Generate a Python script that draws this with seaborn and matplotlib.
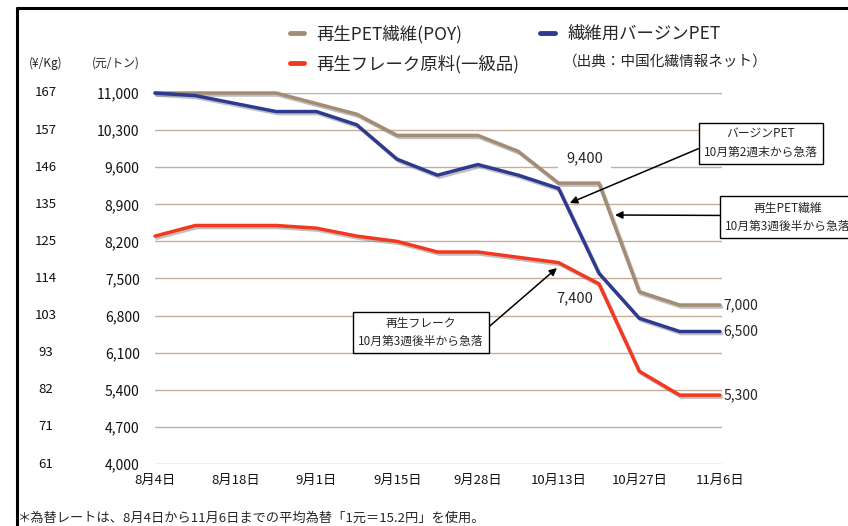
import numpy as np
import pandas as pd
import seaborn as sns
import matplotlib
matplotlib.use("Agg")
import matplotlib.pyplot as plt
import matplotlib.patheffects as pe
import matplotlib.transforms as mtransforms
from matplotlib.lines import Line2D

# weekly observations, 8/4 .. 11/6 (元/トン)
weeks = list(range(15))
poy = [11000, 11000, 11000, 11000, 10800, 10600, 10200, 10200, 10200, 9900,
       9300, 9300, 7250, 7000, 7000]
virgin = [11000, 10950, 10800, 10650, 10650, 10400, 9750, 9450, 9650, 9450,
          9200, 7600, 6750, 6500, 6500]
flake = [8300, 8500, 8500, 8500, 8450, 8300, 8200, 8000, 8000, 7900,
         7800, 7400, 5750, 5300, 5300]

series_names = ["再生PET繊維(POY)", "再生フレーク原料(一級品)", "繊維用バージンPET"]
colors = ["#a38c74", "#f2381f", "#2d3a8f"]

tick_pos = [0, 2, 4, 6, 8, 10, 12, 14]
tick_labels = ["8月4日", "8月18日", "9月1日", "9月15日", "9月28日",
               "10月13日", "10月27日", "11月6日"]
yuan_ticks = [4000, 4700, 5400, 6100, 6800, 7500, 8200, 8900, 9600, 10300, 11000]
yen_ticks = [61, 71, 82, 93, 103, 114, 125, 135, 146, 157, 167]

df = pd.concat([
    pd.DataFrame({"week": weeks, "price": poy, "series": series_names[0]}),
    pd.DataFrame({"week": weeks, "price": flake, "series": series_names[1]}),
    pd.DataFrame({"week": weeks, "price": virgin, "series": series_names[2]}),
])

sns.set_theme(style="white")
plt.rcParams["font.family"] = ["Noto Sans CJK JP", "DejaVu Sans"]

W, H = 848, 526
fig = plt.figure(figsize=(W / 100, H / 100), dpi=100)
ax = fig.add_axes([155 / W, 1 - 464 / H, 567 / W, 371 / H])

sns.lineplot(data=df, x="week", y="price", hue="series", hue_order=series_names,
             palette=dict(zip(series_names, colors)), linewidth=2.5,
             legend=False, ax=ax, zorder=3)
for ln in ax.lines:
    ln.set_clip_on(False)
    ln.set_solid_joinstyle("miter")
    ln.set_path_effects([pe.SimpleLineShadow(offset=(1.2, -1.5), shadow_color="#777777", alpha=0.45),
                         pe.Normal()])

ax.set_xlim(0, 14.05)
ax.set_ylim(4000, 11000)
ax.set_yticks(yuan_ticks)
ax.set_yticklabels([f"{v:,}" for v in yuan_ticks], fontsize=10)
ax.set_xticks(tick_pos)
ax.set_xticklabels(tick_labels, fontsize=9.5)
ax.tick_params(axis="y", length=0, pad=11, colors="#111111")
ax.tick_params(axis="x", length=0, pad=7, colors="#111111")
ax.set_xlabel("")
ax.set_ylabel("")
ax.yaxis.grid(True, color="#c8ad98", linewidth=1.0)
ax.xaxis.grid(False)
ax.set_axisbelow(True)
sns.despine(ax=ax, left=True, bottom=True)

# yen per kg column
tr = mtransforms.blended_transform_factory(fig.transFigure, ax.transData)
for yv, lab in zip(yuan_ticks, yen_ticks):
    ax.text(46 / W, yv, str(lab), transform=tr, ha="center", va="center",
            fontsize=9.5, color="#111111")
fig.text(46 / W, 1 - 63 / H, "(¥/Kg)", ha="center", va="center", fontsize=8.5)
fig.text(116 / W, 1 - 63 / H, "(元/トン)", ha="center", va="center", fontsize=8.5)

# end labels
for vals in (poy, virgin, flake):
    ax.text(14.08, vals[-1], f"{vals[-1]:,}", ha="left", va="center", fontsize=10)
ax.text(10.65, 9770, "9,400", ha="center", va="center", fontsize=10.5,
        bbox=dict(boxstyle="square,pad=0.55", fc="white", ec="none"), zorder=2)
ax.text(10.4, 7400 - 150, "7,400", ha="center", va="top", fontsize=10.5)

# callouts
box = dict(boxstyle="square,pad=0.45", fc="white", ec="black", lw=1.0)
ax.annotate("バージンPET\n10月第2週末から急落", xy=(10.28, 8925),
            xytext=(761, H - 143.5), textcoords="figure pixels",
            ha="center", va="center", fontsize=8.5, linespacing=1.5, bbox=box,
            arrowprops=dict(arrowstyle="-|>", color="black", lw=1.1,
                            relpos=(0, 0.41), shrinkA=0, shrinkB=0, mutation_scale=11),
            annotation_clip=False, zorder=5)
ax.annotate("再生PET繊維\n10月第3週後半から急落", xy=(11.40, 8698),
            xytext=(788, H - 217), textcoords="figure pixels",
            ha="center", va="center", fontsize=8.5, linespacing=1.5, bbox=box,
            arrowprops=dict(arrowstyle="-|>", color="black", lw=1.1,
                            relpos=(0, 0.55), shrinkA=0, shrinkB=0, mutation_scale=11),
            annotation_clip=False, zorder=5)
ax.annotate("再生フレーク\n10月第3週後半から急落", xy=(9.96, 7698),
            xytext=(421, H - 332.5), textcoords="figure pixels",
            ha="center", va="center", fontsize=8.5, linespacing=1.5, bbox=box,
            arrowprops=dict(arrowstyle="-|>", color="black", lw=1.1,
                            relpos=(1, 0.54), shrinkA=0, shrinkB=0, mutation_scale=11),
            annotation_clip=False, zorder=5)

# legend
handles = [Line2D([], [], color=c, lw=3.5) for c in colors]
fig.legend(handles, series_names, ncol=2, loc="upper left",
           bbox_to_anchor=(274 / W, 1 - 9 / H), frameon=False, fontsize=12.5,
           handlelength=0.85, handletextpad=0.7, columnspacing=1.2, labelspacing=0.65)
fig.text(563 / W, 1 - 62 / H, "（出典：中国化繊情報ネット）", ha="left", va="center",
         fontsize=10.5)

# frame and footnote
fig.add_artist(Line2D([17 / W, 17 / W], [0, 1 - 8 / H], color="black", lw=2.2,
                      transform=fig.transFigure))
fig.add_artist(Line2D([17 / W, 1], [1 - 8 / H, 1 - 8 / H], color="black", lw=2.2,
                      transform=fig.transFigure))
fig.text(18 / W, 1 - 518 / H, "＊為替レートは、8月4日から11月6日までの平均為替「1元＝15.2円」を使用。",
         ha="left", va="center", fontsize=9.5)

fig.savefig("out.png", dpi=100)
